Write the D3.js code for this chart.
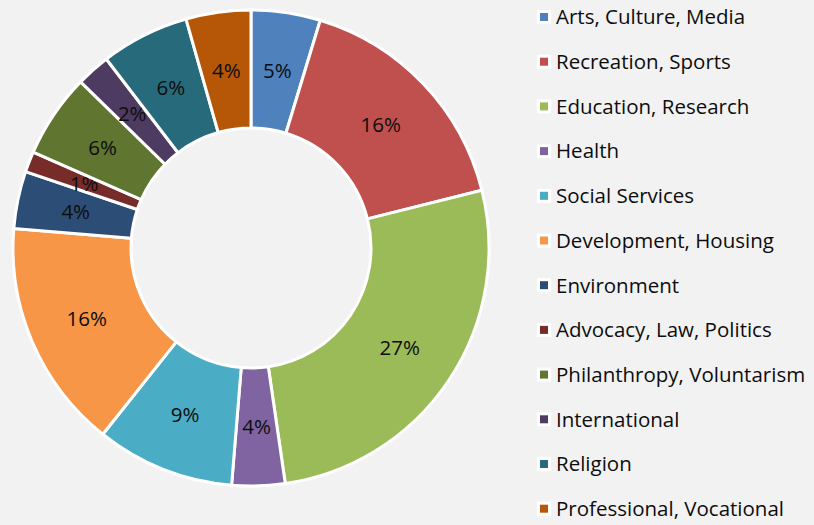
<!DOCTYPE html>
<html>
<head>
<meta charset="utf-8">
<script src="https://cdn.jsdelivr.net/npm/d3@7"></script>
<style>
  html, body { margin: 0; padding: 0; background: #f2f2f2; }
  svg { display: block; }
  text { font-family: "Open Sans", Lato, sans-serif; fill: #0d0d0d; }
</style>
</head>
<body>
<svg id="chart" width="814" height="525"></svg>
<script>
// fields of activity (share of organisations, %)
var categories = ["Arts, Culture, Media", "Recreation, Sports", "Education, Research",
    "Health", "Social Services", "Development, Housing", "Environment",
    "Advocacy, Law, Politics", "Philanthropy, Voluntarism", "International",
    "Religion", "Professional, Vocational"];
var values = [4.7, 16.4, 26.6, 3.6, 9.4, 15.6, 3.9, 1.4, 5.7, 2.3, 6.0, 4.4];
var colors = ["#4f81bd", "#c0504d", "#9bbb59", "#8064a2", "#4bacc6", "#f79646",
    "#2c4d75", "#772c2a", "#5f7530", "#4d3b62", "#276a7c", "#b65708"];

function draw() {
    var svg = d3.select("#chart");
    var cx = 251, cy = 248, outer = 238, inner = 120;
    var total = d3.sum(values);

    var color = d3.scaleOrdinal().domain(categories).range(colors);
    var pie = d3.pie().sort(null).value(function(d) { return d.v; });
    var arc = d3.arc().innerRadius(inner).outerRadius(outer);
    var labelArc = d3.arc().innerRadius((inner+outer)/2).outerRadius((inner+outer)/2);

    var data = categories.map(function(c, i) { return {name: c, v: values[i]}; });

    var g = svg.append("g").attr("transform", "translate(" + cx + "," + cy + ")");
    var slices = g.selectAll("g.slice")
        .data(pie(data))
        .enter().append("g").attr("class", "slice");

    slices.append("path")
        .attr("d", arc)
        .attr("fill", function(d) { return color(d.data.name); })
        .attr("stroke", "#fff")
        .attr("stroke-width", 3)
        .attr("stroke-linejoin", "round");

    slices.append("text")
        .attr("transform", function(d) { return "translate(" + labelArc.centroid(d) + ")"; })
        .attr("text-anchor", "middle")
        .attr("dy", "0.36em")
        .style("font-size", "20.5px")
        .text(function(d) { return Math.round(d.data.v / total * 100) + "%"; });

    // legend
    var leg = svg.append("g").attr("transform", "translate(536,9)");
    var rows = leg.selectAll("g.row")
        .data(categories)
        .enter().append("g")
        .attr("class", "row")
        .attr("transform", function(d, i) { return "translate(0," + (i * 44.7) + ")"; });

    rows.append("rect")
        .attr("x", 2.5).attr("y", 2.5)
        .attr("width", 11).attr("height", 11)
        .attr("fill", function(d) { return color(d); })
        .attr("stroke", "#fff")
        .attr("stroke-width", 3);

    rows.append("text")
        .attr("x", 20)
        .attr("y", 8)
        .attr("dy", "0.36em")
        .style("font-size", "20.5px")
        .text(function(d) { return d; });
}

document.body.onload = function() { draw(); };
</script>
</body>
</html>
